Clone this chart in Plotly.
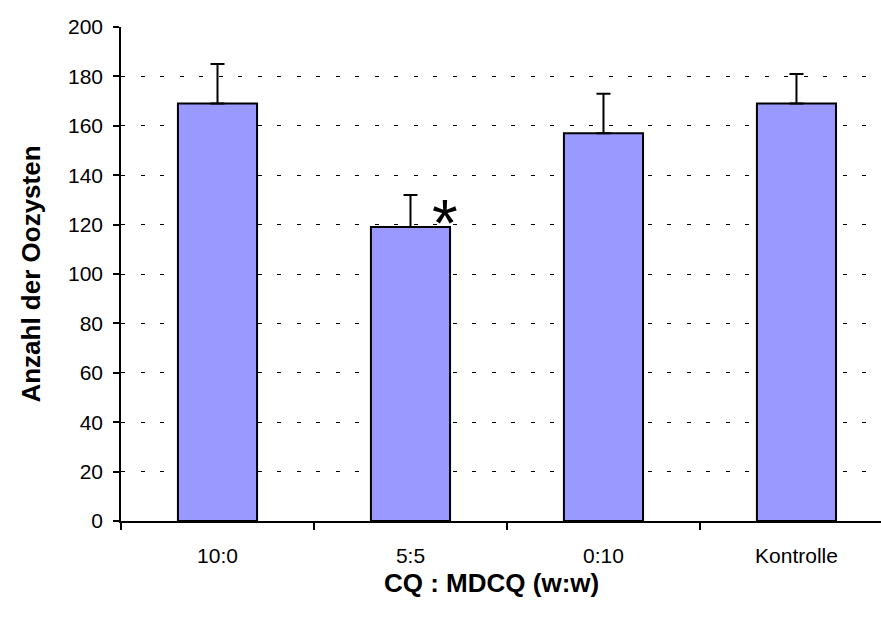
import plotly.graph_objects as go

categories = ["10:0", "5:5", "0:10", "Kontrolle"]
values = [169, 119, 157, 169]
errors_plus = [16, 13, 16, 12]
y_ticks = [0, 20, 40, 60, 80, 100, 120, 140, 160, 180, 200]

FONT = "Liberation Sans, Arial, sans-serif"

fig = go.Figure()
fig.add_trace(go.Bar(
    x=categories,
    y=values,
    width=0.41,
    marker=dict(color="#9999FF", line=dict(color="black", width=2)),
    error_y=dict(type="data", array=errors_plus, arrayminus=[0]*len(values),
                 symmetric=False, color="black", thickness=2, width=7),
))

fig.add_annotation(x=1, y=125, xref="x", yref="y", text="*", showarrow=False,
                   xshift=35, yshift=-11,
                   font=dict(family=FONT, size=66, color="black"))

fig.add_annotation(x=0.488, y=-0.1255, xref="paper", yref="paper", showarrow=False,
                   text="<b>CQ : MDCQ (w:w)</b>", xanchor="center", yanchor="middle",
                   font=dict(family=FONT, size=26, color="black"))

fig.update_layout(
    width=881, height=623,
    margin=dict(l=121, r=0, t=27, b=102),
    plot_bgcolor="white", paper_bgcolor="white",
    showlegend=False,
    font=dict(family=FONT, size=21, color="black"),
    xaxis=dict(
        type="category",
        range=[-0.5, 3.438],
        tickson="boundaries",
        ticks="outside", ticklen=7, tickwidth=1.5, tickcolor="black",
        showline=True, linecolor="black", linewidth=1.5,
        showgrid=False,
        tickfont=dict(size=21),
        ticklabelstandoff=15,
    ),
    yaxis=dict(
        range=[0, 200],
        tickvals=y_ticks,
        ticks="outside", ticklen=6, tickwidth=1.5, tickcolor="black",
        showline=True, linecolor="black", linewidth=1.5,
        showgrid=True, gridcolor="black", gridwidth=1, griddash="4px,15.5px",
        zeroline=False,
        tickfont=dict(size=21),
        ticklabelstandoff=6,
        title=dict(text="<b>Anzahl der Oozysten</b>", font=dict(size=26), standoff=20),
    ),
)

fig.write_html("out.html")
